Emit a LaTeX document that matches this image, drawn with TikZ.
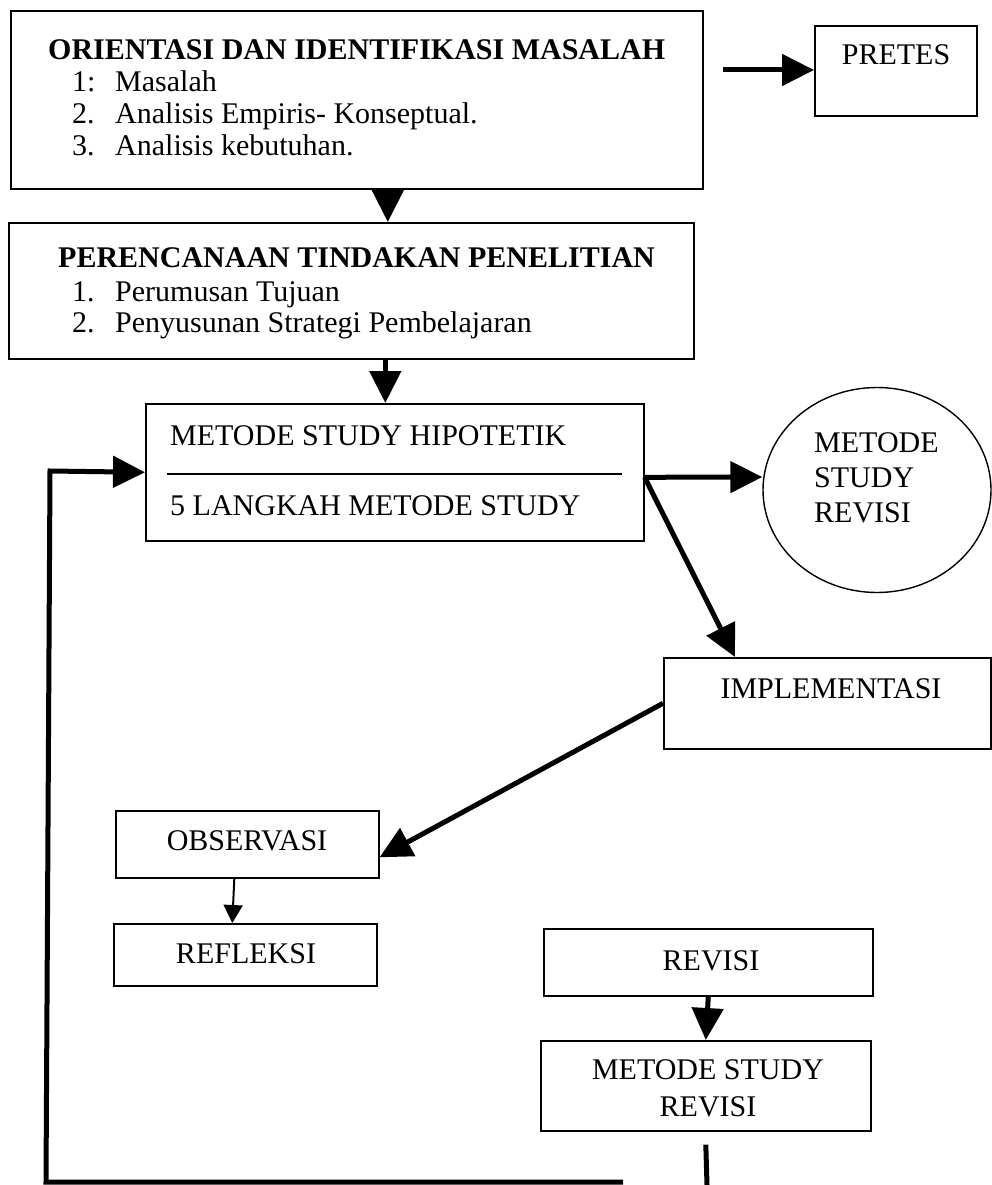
\documentclass[tikz,border=0pt]{standalone}
\usepackage{fontspec}
\setmainfont{Liberation Serif}
\usepackage{tikz}
\usetikzlibrary{arrows.meta,shapes.geometric,calc}

\begin{document}
\begin{tikzpicture}[x=1pt,y=-1pt]
\tikzstyle{box}=[rectangle, draw=black, line width=1.6pt, inner sep=0pt, anchor=north west]
\tikzstyle{connect}=[-{Triangle[length=32pt,width=31pt]}, line width=5pt]
\tikzstyle{thinconnect}=[-{Triangle[length=18pt,width=19pt]}, line width=2pt]
\tikzstyle{txt}=[inner sep=0pt, anchor=base west, font=\fontsize{30}{35}\selectfont]
\tikzstyle{ctxt}=[inner sep=0pt, anchor=base, font=\fontsize{30}{37}\selectfont]
\tikzstyle{head}=[inner sep=0pt, anchor=base west, font=\fontsize{30}{36}\selectfont\bfseries]
\useasboundingbox (0,0) rectangle (992,1185);
  % boxes
  \node[box, minimum width=692pt, minimum height=178pt] (orient) at (10,10) {};
  \node[box, minimum width=162pt, minimum height=90pt] (pretes) at (814,25) {};
  \node[box, minimum width=685pt, minimum height=136pt] (plan) at (8,222) {};
  \node[box, minimum width=498pt, minimum height=137pt] (hypo) at (145,403) {};
  \node[ellipse, draw=black, line width=1.4pt, minimum width=228pt, minimum height=205pt] (circ) at (877,490) {};
  \node[box, minimum width=327pt, minimum height=91pt] (impl) at (663,657) {};
  \node[box, minimum width=263pt, minimum height=67pt] (obs) at (115,810) {};
  \node[box, minimum width=263pt, minimum height=62pt] (refl) at (113,923) {};
  \node[box, minimum width=329pt, minimum height=67pt] (rev) at (543,928) {};
  \node[box, minimum width=330pt, minimum height=90pt] (msr) at (540,1040) {};
  % texts
  \node[head] (t1) at (48,60) {ORIENTASI DAN IDENTIFIKASI MASALAH};
  \node[txt] (n11) at (72,92) {1:};
  \node[txt] (i11) at (115,92) {Masalah};
  \node[txt] (n12) at (72,124) {2.};
  \node[txt] (i12) at (115,124) {Analisis Empiris- Konseptual.};
  \node[txt] (n13) at (72,156) {3.};
  \node[txt] (i13) at (115,156) {Analisis kebutuhan.};
  \node[ctxt] (tp) at (896,65) {PRETES};
  \node[head] (t2) at (58,267) {PERENCANAAN TINDAKAN PENELITIAN};
  \node[txt] (n21) at (72,301) {1.};
  \node[txt] (i21) at (115,301) {Perumusan Tujuan};
  \node[txt] (n22) at (72,332) {2.};
  \node[txt] (i22) at (115,332) {Penyusunan Strategi Pembelajaran};
  \node[txt] (h1) at (170,445) {METODE STUDY HIPOTETIK};
  \node[txt] (h2) at (170,515) {5 LANGKAH METODE STUDY};
  \draw[line width=1.6pt] (167,474) -- (622,474);
  \node[txt, align=left, anchor=north west] (tc) at (814,432) {METODE\\STUDY\\REVISI};
  \node[ctxt] (ti) at (831,698) {IMPLEMENTASI};
  \node[ctxt] (to) at (247,850) {OBSERVASI};
  \node[ctxt] (tr) at (246,963) {REFLEKSI};
  \node[ctxt] (tv) at (711,970) {REVISI};
  \node[ctxt, align=center, anchor=north] (tm) at (708,1059) {METODE STUDY\\REVISI};
  % connectors
  \coordinate (ps) at (723,70);
  \coordinate (me) at (707,1185);
  \coordinate (lb) at (623,1182);
  \coordinate (ll) at (46,1182);
  \coordinate (lt) at (50,471);
  \draw[connect] (ps) -- (ps -| pretes.west);
  \draw[connect] ([xshift=31pt]orient.south) -- ([xshift=31pt]orient.south |- plan.north);
  \draw[connect] ([xshift=34pt]plan.south) -- ([xshift=34pt]plan.south |- hypo.north);
  \draw[connect] ([yshift=-5pt]hypo.east) -- ([yshift=13pt]circ.west);
  \draw[connect] ([yshift=-5pt]hypo.east) -- ([xshift=72pt]impl.north west);
  \draw[connect] (impl.west) -- ([yshift=-13pt]obs.east);
  \draw[thinconnect] ([xshift=-13pt]obs.south) -- ([xshift=-13pt]refl.north);
  \draw[connect] (rev.south) -- (msr.south |- msr.north);
  \draw[line width=5pt] ([yshift=-13pt]msr.south) -- (me);
  \draw[connect] (lb) -- (ll) -- (lt) -- (hypo.west);
\end{tikzpicture}
\end{document}
